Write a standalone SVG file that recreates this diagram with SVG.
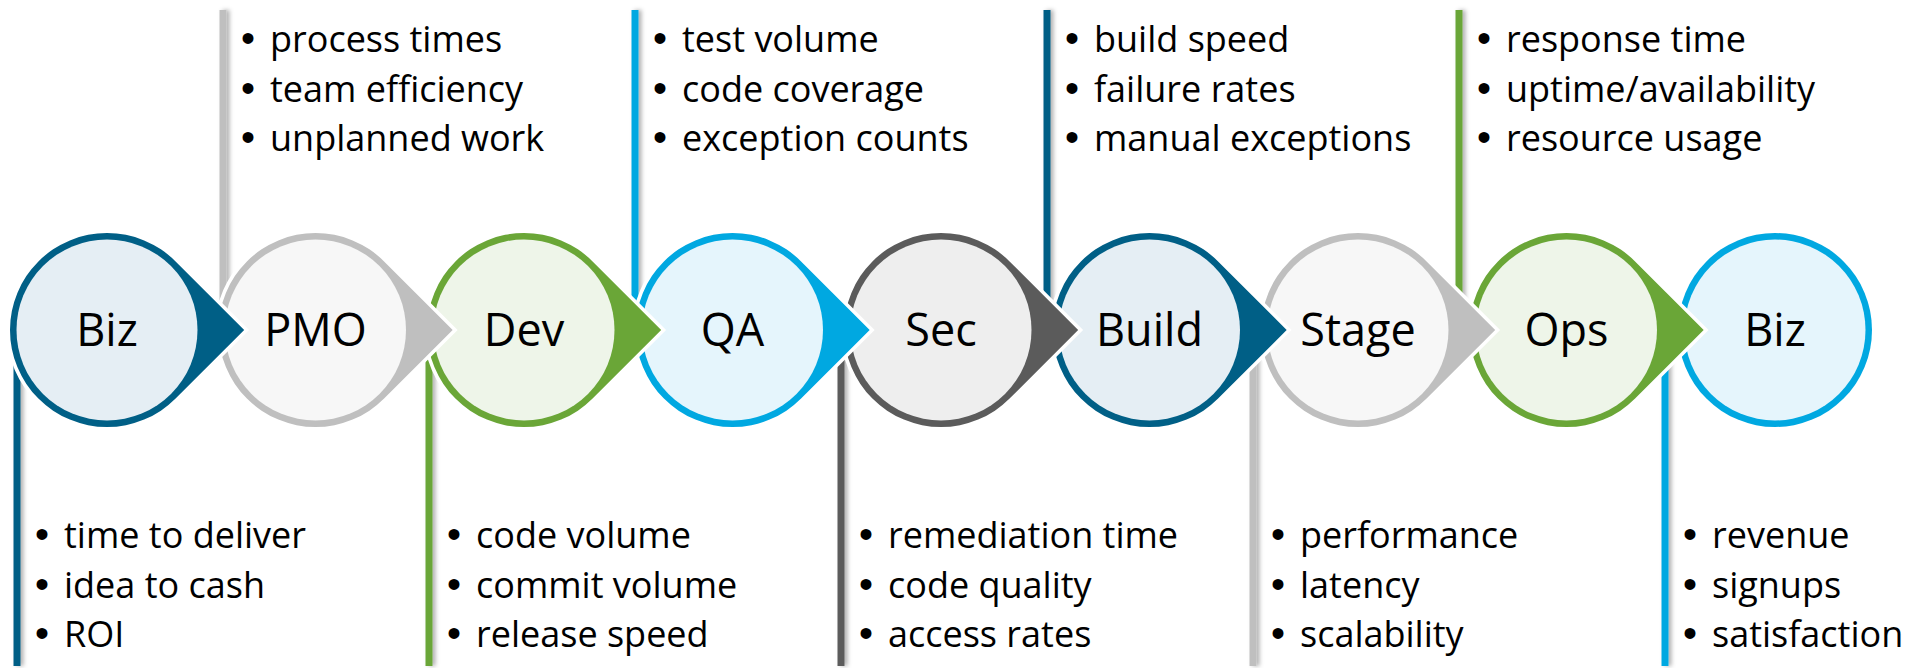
<svg xmlns="http://www.w3.org/2000/svg" width="1909" height="668" viewBox="0 0 1909 668">
<defs>
<filter id="sh" x="-200%" y="-5%" width="500%" height="110%">
<feDropShadow dx="3" dy="0" stdDeviation="2" flood-color="#000" flood-opacity="0.3"/>
</filter>
</defs>
<style>
.lbl{font-family:"Open Sans","Liberation Sans",sans-serif;font-size:45px;fill:#000;text-anchor:middle}
.bt{font-family:"Open Sans","Liberation Sans",sans-serif;font-size:36px;fill:#000}
.bu{font-family:"Liberation Sans",Arial,sans-serif;font-size:40px}
.wo{fill:#fff;stroke:#fff;stroke-width:7;stroke-linejoin:miter}
.k1{fill:#005F86}.f1{fill:#E5EEF4}
.k2{fill:#BFBFBF}.f2{fill:#F7F7F7}
.k3{fill:#6AA637}.f3{fill:#EEF5E9}
.k4{fill:#00A8E1}.f4{fill:#E5F5FC}
.k5{fill:#5B5B5B}.f5{fill:#EEEEEE}
</style>
<rect width="1909" height="668" fill="#fff"/>
<g id="connectors" filter="url(#sh)">
<rect class="k1" x="13.5" y="330" width="7" height="336"/>
<rect class="k2" x="219.5" y="10" width="7" height="320"/>
<rect class="k3" x="425.5" y="330" width="7" height="336"/>
<rect class="k4" x="631.5" y="10" width="7" height="320"/>
<rect class="k5" x="837.5" y="330" width="7" height="336"/>
<rect class="k1" x="1043.5" y="10" width="7" height="320"/>
<rect class="k2" x="1249.5" y="330" width="7" height="336"/>
<rect class="k3" x="1455.5" y="10" width="7" height="320"/>
<rect class="k4" x="1661.5" y="330" width="7" height="336"/>
</g>
<g id="node-biz-end">
<circle class="wo" cx="1775" cy="330" r="97"/>
<circle class="k4" cx="1775" cy="330" r="97"/>
<circle class="f4" cx="1775" cy="330" r="90.5"/>
<text class="lbl" x="1775" y="346">Biz</text>
<text class="bt" y="548"><tspan class="bu" x="1683">•</tspan><tspan x="1712">revenue</tspan></text>
<text class="bt" y="597.5"><tspan class="bu" x="1683">•</tspan><tspan x="1712">signups</tspan></text>
<text class="bt" y="647"><tspan class="bu" x="1683">•</tspan><tspan x="1712">satisfaction</tspan></text>
</g>
<g id="node-ops">
<path class="wo" d="M1635.09 261.41A97 97 0 1 0 1635.09 398.59L1703.68 330Z"/>
<path class="k3" d="M1635.09 261.41A97 97 0 1 0 1635.09 398.59L1703.68 330Z"/>
<circle class="f3" cx="1566.5" cy="330" r="90.5"/>
<text class="lbl" x="1566.5" y="346">Ops</text>
<text class="bt" y="52"><tspan class="bu" x="1477">•</tspan><tspan x="1506">response time</tspan></text>
<text class="bt" y="101.5"><tspan class="bu" x="1477">•</tspan><tspan x="1506">uptime/availability</tspan></text>
<text class="bt" y="151"><tspan class="bu" x="1477">•</tspan><tspan x="1506">resource usage</tspan></text>
</g>
<g id="node-stage">
<path class="wo" d="M1426.59 261.41A97 97 0 1 0 1426.59 398.59L1495.18 330Z"/>
<path class="k2" d="M1426.59 261.41A97 97 0 1 0 1426.59 398.59L1495.18 330Z"/>
<circle class="f2" cx="1358" cy="330" r="90.5"/>
<text class="lbl" x="1358" y="346">Stage</text>
<text class="bt" y="548"><tspan class="bu" x="1271">•</tspan><tspan x="1300">performance</tspan></text>
<text class="bt" y="597.5"><tspan class="bu" x="1271">•</tspan><tspan x="1300">latency</tspan></text>
<text class="bt" y="647"><tspan class="bu" x="1271">•</tspan><tspan x="1300">scalability</tspan></text>
</g>
<g id="node-build">
<path class="wo" d="M1218.09 261.41A97 97 0 1 0 1218.09 398.59L1286.68 330Z"/>
<path class="k1" d="M1218.09 261.41A97 97 0 1 0 1218.09 398.59L1286.68 330Z"/>
<circle class="f1" cx="1149.5" cy="330" r="90.5"/>
<text class="lbl" x="1149.5" y="346">Build</text>
<text class="bt" y="52"><tspan class="bu" x="1065">•</tspan><tspan x="1094">build speed</tspan></text>
<text class="bt" y="101.5"><tspan class="bu" x="1065">•</tspan><tspan x="1094">failure rates</tspan></text>
<text class="bt" y="151"><tspan class="bu" x="1065">•</tspan><tspan x="1094">manual exceptions</tspan></text>
</g>
<g id="node-sec">
<path class="wo" d="M1009.59 261.41A97 97 0 1 0 1009.59 398.59L1078.18 330Z"/>
<path class="k5" d="M1009.59 261.41A97 97 0 1 0 1009.59 398.59L1078.18 330Z"/>
<circle class="f5" cx="941" cy="330" r="90.5"/>
<text class="lbl" x="941" y="346">Sec</text>
<text class="bt" y="548"><tspan class="bu" x="859">•</tspan><tspan x="888">remediation time</tspan></text>
<text class="bt" y="597.5"><tspan class="bu" x="859">•</tspan><tspan x="888">code quality</tspan></text>
<text class="bt" y="647"><tspan class="bu" x="859">•</tspan><tspan x="888">access rates</tspan></text>
</g>
<g id="node-qa">
<path class="wo" d="M801.09 261.41A97 97 0 1 0 801.09 398.59L869.68 330Z"/>
<path class="k4" d="M801.09 261.41A97 97 0 1 0 801.09 398.59L869.68 330Z"/>
<circle class="f4" cx="732.5" cy="330" r="90.5"/>
<text class="lbl" x="732.5" y="346">QA</text>
<text class="bt" y="52"><tspan class="bu" x="653">•</tspan><tspan x="682">test volume</tspan></text>
<text class="bt" y="101.5"><tspan class="bu" x="653">•</tspan><tspan x="682">code coverage</tspan></text>
<text class="bt" y="151"><tspan class="bu" x="653">•</tspan><tspan x="682">exception counts</tspan></text>
</g>
<g id="node-dev">
<path class="wo" d="M592.59 261.41A97 97 0 1 0 592.59 398.59L661.18 330Z"/>
<path class="k3" d="M592.59 261.41A97 97 0 1 0 592.59 398.59L661.18 330Z"/>
<circle class="f3" cx="524" cy="330" r="90.5"/>
<text class="lbl" x="524" y="346">Dev</text>
<text class="bt" y="548"><tspan class="bu" x="447">•</tspan><tspan x="476">code volume</tspan></text>
<text class="bt" y="597.5"><tspan class="bu" x="447">•</tspan><tspan x="476">commit volume</tspan></text>
<text class="bt" y="647"><tspan class="bu" x="447">•</tspan><tspan x="476">release speed</tspan></text>
</g>
<g id="node-pmo">
<path class="wo" d="M384.09 261.41A97 97 0 1 0 384.09 398.59L452.68 330Z"/>
<path class="k2" d="M384.09 261.41A97 97 0 1 0 384.09 398.59L452.68 330Z"/>
<circle class="f2" cx="315.5" cy="330" r="90.5"/>
<text class="lbl" x="315.5" y="346">PMO</text>
<text class="bt" y="52"><tspan class="bu" x="241">•</tspan><tspan x="270">process times</tspan></text>
<text class="bt" y="101.5"><tspan class="bu" x="241">•</tspan><tspan x="270">team efficiency</tspan></text>
<text class="bt" y="151"><tspan class="bu" x="241">•</tspan><tspan x="270">unplanned work</tspan></text>
</g>
<g id="node-biz-start">
<path class="wo" d="M175.59 261.41A97 97 0 1 0 175.59 398.59L244.18 330Z"/>
<path class="k1" d="M175.59 261.41A97 97 0 1 0 175.59 398.59L244.18 330Z"/>
<circle class="f1" cx="107" cy="330" r="90.5"/>
<text class="lbl" x="107" y="346">Biz</text>
<text class="bt" y="548"><tspan class="bu" x="35">•</tspan><tspan x="64">time to deliver</tspan></text>
<text class="bt" y="597.5"><tspan class="bu" x="35">•</tspan><tspan x="64">idea to cash</tspan></text>
<text class="bt" y="647"><tspan class="bu" x="35">•</tspan><tspan x="64">ROI</tspan></text>
</g>
</svg>
